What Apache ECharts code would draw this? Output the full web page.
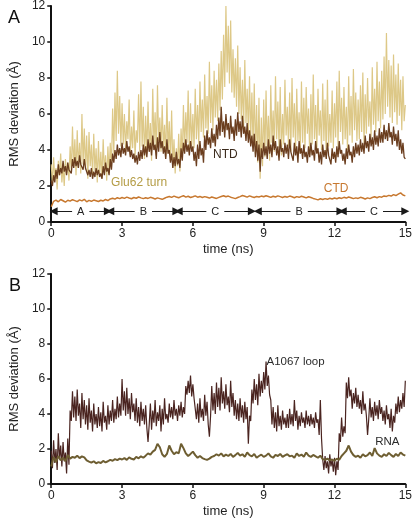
<!DOCTYPE html>
<html>
<head>
<meta charset="utf-8">
<script src="https://cdn.jsdelivr.net/npm/echarts@6/dist/echarts.min.js"></script>
<style>
html,body{margin:0;padding:0;background:#fff;}
#chart{width:415px;height:521px;}
</style>
</head>
<body>
<div id="chart"></div>
<script>
// ---------- DATA ----------
const fineStep = 0.05;   // ns between samples of the dense series
const coarseStep = 0.1;  // ns between samples of the smooth series
const xTicks = [0, 3, 6, 9, 12, 15];
const yTicks = [0, 2, 4, 6, 8, 10, 12];

// Panel A
const glu62Turn = [
3.2,2.1,3.6,2.4,3.0,1.8,3.4,2.6,3.8,2.2,3.1,2.0,3.5,2.7,3.3,2.3,4.2,2.8,5.3,3.0,
4.6,2.6,5.1,3.0,4.4,2.7,6.0,3.2,5.2,2.9,4.8,2.4,5.0,3.1,4.3,2.5,4.9,2.8,4.1,2.2,
4.5,2.6,3.9,2.4,4.6,2.8,3.7,2.3,4.2,2.7,4.4,3.0,6.3,3.8,7.2,4.5,8.4,4.9,7.0,4.2,
6.6,4.3,6.0,3.9,5.6,4.6,6.8,3.7,5.3,4.1,6.2,3.6,5.1,4.4,7.1,3.9,7.8,4.2,6.4,3.5,
5.9,3.8,6.7,4.0,5.5,3.4,7.4,4.3,6.1,3.7,7.6,4.5,5.8,3.9,6.5,4.1,5.4,3.6,6.9,3.8,
5.6,3.4,6.2,3.0,4.6,2.7,4.1,3.1,4.9,2.8,5.2,3.5,6.5,4.0,6.1,4.4,7.3,3.9,6.6,4.2,
6.0,4.1,7.4,4.6,6.5,4.3,7.8,5.0,6.8,4.7,8.2,5.2,7.0,4.9,8.9,5.5,7.6,5.1,8.4,5.8,
7.9,5.6,8.8,6.2,9.5,6.8,10.4,7.5,12.0,8.3,10.9,7.7,11.2,7.2,9.6,6.9,9.1,6.4,9.8,6.0,
8.6,5.7,7.9,5.2,9.0,5.5,7.4,4.9,8.1,4.6,7.2,4.2,7.7,3.8,6.5,3.3,6.9,2.4,5.8,3.1,
6.8,3.6,7.3,4.0,5.9,3.4,7.6,4.4,6.2,3.9,8.1,4.6,6.7,4.1,7.5,3.7,6.0,4.3,7.9,4.8,
6.4,4.2,7.2,3.9,8.0,4.7,6.6,4.0,7.4,4.5,6.1,3.8,7.8,4.4,6.9,4.1,7.5,4.9,6.3,3.7,
7.1,4.3,8.2,4.6,6.5,3.9,7.4,4.8,6.2,4.0,7.7,4.5,6.8,3.6,7.9,4.2,6.0,4.4,7.3,4.1,
6.6,4.7,7.8,4.2,8.4,5.0,6.9,4.3,7.5,4.6,6.4,4.0,8.1,4.8,7.0,4.4,8.5,5.1,7.2,4.5,
6.8,4.6,7.6,5.0,8.3,4.4,7.1,4.9,8.0,5.3,6.7,4.7,8.6,5.4,7.4,5.0,8.9,5.6,7.8,5.2,
8.4,5.7,9.2,6.0,10.5,6.4,9.0,5.8,8.7,5.5,9.3,6.1,8.2,5.4,8.8,5.9,7.9,5.1,8.1,5.6,
6.5];
const ntd = [
2.3,2.0,2.6,2.2,2.9,2.4,3.2,2.6,3.0,2.7,3.4,2.8,3.1,2.6,3.3,2.9,3.0,2.7,3.5,3.0,
3.6,3.1,3.4,3.0,3.7,3.2,3.3,2.9,3.5,3.0,3.1,2.6,2.9,2.5,3.0,2.4,2.8,2.5,3.0,2.6,
2.9,2.5,2.7,2.4,3.1,2.6,3.3,2.8,3.0,2.6,3.5,2.9,3.8,3.3,4.0,3.5,4.3,3.7,4.1,3.6,
4.4,3.8,4.1,3.7,4.5,3.9,4.2,3.6,4.0,3.5,3.8,3.3,3.7,3.2,3.9,3.4,4.0,3.5,4.3,3.7,
4.2,3.6,4.6,3.9,4.4,3.7,4.8,4.0,4.3,3.5,4.7,3.9,5.0,4.1,4.5,3.8,4.2,3.5,4.6,3.8,
4.0,3.3,3.8,3.0,3.6,3.1,3.9,3.2,3.5,3.0,4.1,3.4,4.4,3.8,4.6,3.9,4.3,3.7,4.5,3.9,
4.2,3.4,3.9,3.1,4.3,3.5,4.5,3.7,4.1,3.3,4.8,4.0,5.1,4.3,4.7,4.1,5.2,4.4,4.9,4.2,
5.4,4.6,5.8,4.8,6.4,5.0,5.6,4.7,6.0,5.1,5.5,4.6,5.9,4.9,5.3,4.5,5.7,4.8,6.1,5.0,
5.6,4.7,5.9,4.9,5.3,4.5,5.5,4.4,5.1,4.2,4.8,3.9,4.9,3.6,4.5,3.4,4.3,2.8,4.1,3.5,
4.4,3.7,4.2,3.5,4.6,3.8,4.3,3.6,4.8,4.0,4.5,3.7,4.2,3.4,4.6,3.9,4.1,3.6,4.4,3.8,
4.3,3.5,4.6,3.9,4.0,3.4,4.4,3.7,4.2,3.3,4.5,3.8,4.1,3.5,4.3,3.6,3.9,3.3,4.2,3.6,
4.4,3.7,4.0,3.4,4.5,3.8,4.1,3.3,3.9,3.2,4.3,3.6,4.0,3.5,4.4,3.7,3.8,3.2,4.1,3.5,
3.9,3.3,4.2,3.6,4.5,3.8,4.0,3.4,3.8,3.2,4.1,3.5,4.3,3.7,3.9,3.3,4.2,3.6,4.4,3.8,
4.3,3.7,4.6,3.9,4.4,3.8,4.8,4.1,4.5,3.9,4.9,4.2,4.7,4.0,5.1,4.3,4.8,4.2,5.2,4.4,
5.0,4.4,5.4,4.6,5.1,4.5,5.5,4.7,5.0,4.3,5.3,4.5,4.9,4.2,5.1,4.0,4.6,3.8,4.4,3.6,
3.5];
const ctd = [
0.85,1.15,1.22,1.12,1.25,1.18,1.10,1.21,1.16,1.24,
1.19,1.13,1.23,1.17,1.26,1.12,1.20,1.15,1.22,1.18,
1.14,1.21,1.17,1.25,1.19,1.28,1.32,1.27,1.35,1.30,
1.36,1.31,1.38,1.33,1.29,1.36,1.32,1.39,1.34,1.30,
1.35,1.31,1.37,1.33,1.28,1.34,1.30,1.26,1.32,1.38,
1.42,1.37,1.44,1.39,1.35,1.41,1.46,1.38,1.43,1.36,
1.40,1.45,1.38,1.42,1.36,1.41,1.37,1.33,1.39,1.35,
1.31,1.37,1.42,1.46,1.40,1.44,1.38,1.34,1.30,1.36,
1.41,1.47,1.43,1.38,1.45,1.40,1.36,1.42,1.39,1.44,
1.40,1.46,1.42,1.37,1.43,1.39,1.45,1.41,1.36,1.42,
1.38,1.44,1.40,1.35,1.41,1.37,1.43,1.39,1.34,1.40,
1.36,1.31,1.27,1.23,1.29,1.25,1.30,1.26,1.32,1.28,
1.33,1.29,1.35,1.31,1.37,1.33,1.39,1.35,1.30,1.34,
1.31,1.37,1.33,1.28,1.34,1.30,1.36,1.40,1.35,1.41,
1.38,1.45,1.42,1.48,1.44,1.52,1.47,1.55,1.62,1.50,
1.45];
// conformational-state arrows (panel A)
const stateLabels = ['A', 'B', 'C', 'B', 'C'];
const stateStart  = [0.1, 2.5, 5.4, 8.75, 12.35];
const stateEnd    = [2.4, 5.3, 8.5, 12.25, 15.0];
const stateLevel  = 0.6;

// Panel B
const a1067Loop = [
1.9,0.9,2.5,1.2,2.0,0.8,2.9,1.4,2.2,1.0,2.4,1.3,1.8,0.6,2.6,1.1,4.2,3.6,5.3,3.8,
5.0,3.6,5.4,3.9,4.6,3.2,5.2,3.7,4.8,3.4,4.5,3.1,4.9,3.5,4.2,3.0,4.6,3.4,4.0,3.2,
4.4,3.3,4.1,3.0,4.7,3.5,3.9,3.1,4.5,3.4,4.2,3.6,4.8,3.5,4.3,3.7,5.0,3.8,4.6,3.9,
6.0,4.2,5.3,3.9,5.5,4.0,4.9,3.7,5.2,4.1,4.6,3.6,4.9,3.5,4.4,3.3,4.7,3.6,4.3,3.4,
4.5,3.2,2.4,3.4,4.6,3.1,4.2,3.5,4.8,3.3,4.1,3.6,4.5,3.0,4.3,3.4,4.9,3.7,4.0,3.5,
4.6,3.8,4.4,3.7,4.8,3.9,4.3,3.6,4.5,3.9,4.7,3.8,4.4,4.0,5.6,5.1,5.9,5.2,6.2,5.0,
5.7,4.9,4.8,3.7,4.6,3.5,4.9,3.8,4.3,3.6,5.1,3.9,4.7,3.4,2.7,3.9,5.6,4.2,5.2,4.0,
5.8,4.4,5.5,4.2,6.1,4.6,5.3,4.3,5.7,4.5,5.0,4.1,5.9,4.4,5.2,3.9,4.8,3.7,4.6,3.6,
4.9,3.8,4.5,3.5,4.7,3.7,4.4,2.3,3.9,3.6,5.4,4.6,6.0,4.8,5.7,4.5,6.3,5.0,5.9,5.2,
6.4,5.4,7.0,5.6,6.2,5.1,4.8,3.4,4.4,3.2,4.1,3.0,4.5,3.3,3.9,3.1,4.2,3.4,3.8,3.2,
4.0,3.2,4.3,3.4,4.0,3.3,4.8,3.6,4.2,3.1,3.9,3.3,4.1,3.5,3.8,3.2,4.2,3.4,3.9,3.3,
4.0,3.4,3.8,3.2,4.1,3.5,3.7,2.8,4.8,2.6,1.4,0.8,1.6,0.9,1.3,0.6,1.7,1.0,1.4,0.7,
1.5,0.5,1.3,0.8,2.9,2.4,3.8,2.7,3.3,2.9,5.8,4.9,6.1,5.0,5.4,4.3,5.2,4.6,5.5,4.4,
5.1,4.3,4.8,4.0,5.3,4.2,4.6,3.9,2.8,3.7,4.9,3.8,4.4,3.6,4.7,3.9,4.5,3.7,4.8,4.0,
4.4,3.6,4.2,3.4,4.5,3.7,4.0,3.2,4.3,3.0,3.9,3.5,4.6,4.0,5.0,4.1,4.8,4.3,5.2,4.4,
5.9];
const rna = [
1.00,1.55,1.25,1.60,1.35,1.50,1.30,1.65,1.45,1.55,
1.50,1.62,1.48,1.58,1.52,1.35,1.28,1.22,1.30,1.18,
1.25,1.20,1.32,1.24,1.30,1.38,1.33,1.42,1.36,1.45,
1.40,1.48,1.38,1.52,1.44,1.40,1.55,1.47,1.58,1.50,
1.62,1.75,1.68,1.85,1.95,2.30,2.10,1.70,1.55,1.72,
2.20,1.90,1.70,1.82,1.75,2.30,2.05,1.75,1.60,1.72,
1.85,1.65,1.50,1.60,1.48,1.42,1.38,1.45,1.55,1.60,
1.70,1.62,1.75,1.58,1.68,1.60,1.72,1.55,1.65,1.78,
1.62,1.70,1.55,1.80,1.65,1.58,1.72,1.50,1.60,1.68,
1.55,1.62,1.75,1.58,1.50,1.66,1.60,1.72,1.55,1.64,
1.70,1.58,1.62,1.50,1.75,1.60,1.68,1.56,1.80,1.62,
1.55,1.66,1.58,1.50,1.62,1.42,1.38,1.45,1.35,1.40,
1.32,1.45,1.38,1.60,1.75,1.90,2.20,1.85,1.65,1.55,
1.62,1.50,1.70,1.58,1.65,1.80,1.60,2.05,1.75,1.62,
1.55,1.70,1.60,1.78,1.65,1.55,1.72,1.60,1.80,1.68,
1.62];

// text annotations: [time, value, text]
const labelsA = [[3.72, 2.17, 'Glu62 turn'], [7.38, 3.72, 'NTD'], [12.07, 1.83, 'CTD']];
const labelColorsA = ['#b49c45', '#3a2a1c', '#c7782f'];
const labelsB = [[10.35, 6.97, 'A1067 loop'], [14.24, 2.42, 'RNA']];
const labelColorsB = ['#2b2b2b', '#2b2b2b'];

// ---------- BUILD ----------
function pairs(arr, step) { return arr.map((v, i) => [Math.round(i * step * 100) / 100, v]); }

const FONT = '"Liberation Sans", Arial, Helvetica, sans-serif';
const axisCol = '#111';

function xAxisCfg(gi) {
  return {
    gridIndex: gi, type: 'value', min: xTicks[0], max: xTicks[xTicks.length - 1], interval: xTicks[1] - xTicks[0],
    name: 'time (ns)', nameLocation: 'middle', nameGap: 21,
    nameTextStyle: { fontFamily: FONT, fontSize: 13, color: '#222' },
    axisLine: { lineStyle: { color: axisCol, width: 2 } },
    axisTick: { show: true, inside: false, length: 4, lineStyle: { color: axisCol, width: 1.5 } },
    axisLabel: { fontFamily: FONT, fontSize: 12, color: '#222', margin: 6 },
    splitLine: { show: false }
  };
}
function yAxisCfg(gi) {
  return {
    gridIndex: gi, type: 'value', min: yTicks[0], max: yTicks[yTicks.length - 1], interval: yTicks[1] - yTicks[0],
    name: 'RMS deviation (Å)', nameLocation: 'middle', nameGap: 30,
    nameTextStyle: { fontFamily: FONT, fontSize: 13, color: '#222' },
    axisLine: { show: true, lineStyle: { color: axisCol, width: 2 } },
    axisTick: { show: true, inside: false, length: 4, lineStyle: { color: axisCol, width: 1.5 } },
    axisLabel: { fontFamily: FONT, fontSize: 12, color: '#222', margin: 6 },
    splitLine: { show: false }
  };
}
function lineSeries(name, data, step, color, width, gi, z) {
  return {
    name: name, type: 'line', xAxisIndex: gi, yAxisIndex: gi, data: pairs(data, step),
    showSymbol: false, symbol: 'none', animation: false, silent: true, z: z,
    lineStyle: { color: color, width: width }
  };
}
function labelSeries(list, colors, gi, fontSize) {
  return {
    type: 'scatter', xAxisIndex: gi, yAxisIndex: gi, symbolSize: 1, animation: false, silent: true, z: 10,
    itemStyle: { color: 'rgba(0,0,0,0)' },
    data: list.map((d, i) => ({
      value: [d[0], d[1]],
      label: { show: true, position: 'inside', formatter: d[2], color: colors[i], opacity: 1,
               fontFamily: FONT, fontSize: fontSize }
    }))
  };
}

const ctdSeries = lineSeries('CTD', ctd, coarseStep, '#c7782f', 1.5, 0, 4);
ctdSeries.markLine = {
  silent: true, animation: false,
  symbol: ['triangle', 'triangle'], symbolSize: 8,
  lineStyle: { color: '#1a1a1a', width: 1, type: 'solid' },
  label: {
    show: true, position: 'middle', formatter: '{b}', color: '#222', fontFamily: FONT, fontSize: 11,
    backgroundColor: '#fff', padding: [0, 5], distance: [0, -6]
  },
  data: stateLabels.map((s, i) => [
    { name: s, coord: [stateStart[i], stateLevel] },
    { coord: [stateEnd[i], stateLevel] }
  ])
};

const option = {
  backgroundColor: '#fff',
  animation: false,
  title: [
    { text: 'A', left: 3, top: 4, textStyle: { fontFamily: FONT, fontSize: 18, fontWeight: 'normal', color: '#111' } },
    { text: 'B', left: 4, top: 272, textStyle: { fontFamily: FONT, fontSize: 18, fontWeight: 'normal', color: '#111' } }
  ],
  grid: [
    { left: 49, right: 8, top: 6, height: 216 },
    { left: 49, right: 6, top: 274, height: 210 }
  ],
  xAxis: [xAxisCfg(0), xAxisCfg(1)],
  yAxis: [yAxisCfg(0), yAxisCfg(1)],
  series: [
    lineSeries('Glu62 turn', glu62Turn, fineStep, '#ddc887', 1.2, 0, 2),
    lineSeries('NTD', ntd, fineStep, '#6b3e1f', 1.3, 0, 3),
    ctdSeries,
    labelSeries(labelsA, labelColorsA, 0, 12),
    lineSeries('A1067 loop', a1067Loop, fineStep, '#4a2420', 1.2, 1, 3),
    lineSeries('RNA', rna, coarseStep, '#6e5e32', 2, 1, 4),
    labelSeries(labelsB, labelColorsB, 1, 11.5)
  ]
};

const chart = echarts.init(document.getElementById('chart'), null, { renderer: 'canvas' });
chart.setOption(option);
</script>
</body>
</html>
